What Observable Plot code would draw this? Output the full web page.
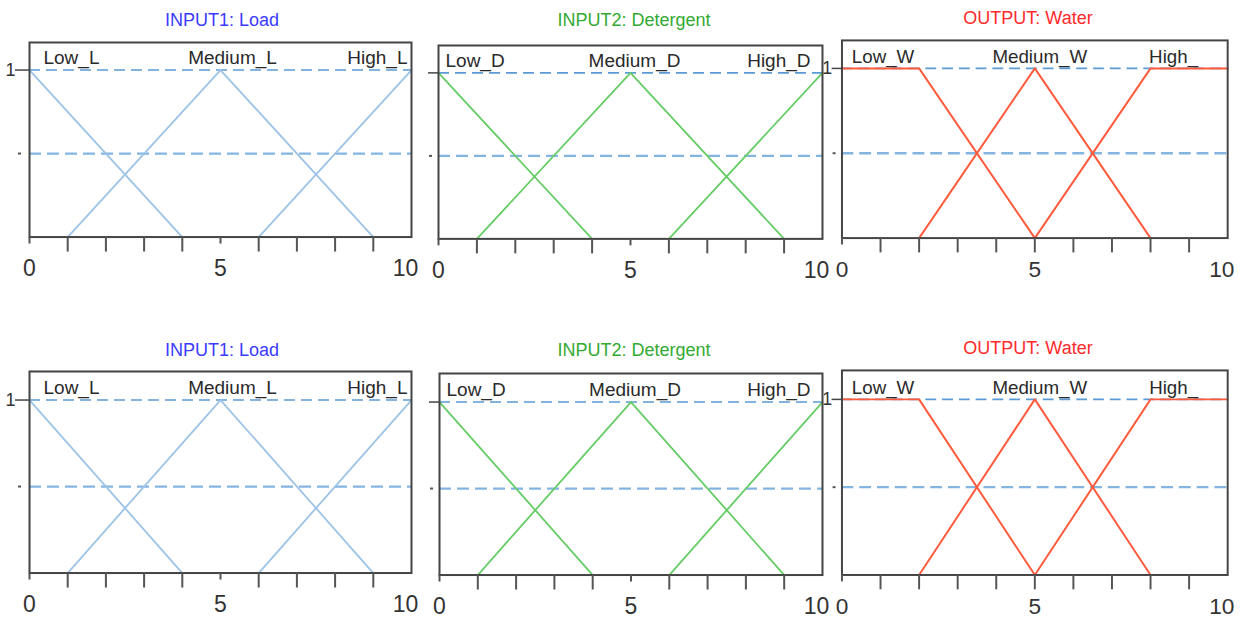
<!DOCTYPE html>
<html>
<head>
<meta charset="utf-8">
<script src="https://cdn.jsdelivr.net/npm/d3@7"></script>
<script src="https://cdn.jsdelivr.net/npm/@observablehq/plot@0.6"></script>
<style>
  html, body { margin: 0; padding: 0; background: #fff; }
  #root { position: relative; width: 1241px; height: 634px; overflow: hidden; font-family: "Liberation Sans", Arial, sans-serif; }
  .panel { position: absolute; }
  .title { position: absolute; transform: translate(-50%, -50%); font-size: 18px; white-space: nowrap; font-family: "Liberation Sans", Arial, sans-serif; }
</style>
</head>
<body>
<div id="root"></div>
<script>
// ---- data ----
const titles = ["INPUT1: Load", "INPUT2: Detergent", "OUTPUT: Water"];
const loadTerms = ["Low_L", "Medium_L", "High_L"];
const detergentTerms = ["Low_D", "Medium_D", "High_D"];
const waterTerms = ["Low_W", "Medium_W", "High_"];
// input membership functions (Load and Detergent share the same shapes)
const inputX = [[0, 4], [1, 5, 9], [6, 10]];
const inputMu = [[1, 0], [0, 1, 0], [0, 1]];
// output membership functions (Water)
const waterX = [[0, 2, 5], [2, 5, 8], [5, 8, 10]];
const waterMu = [[1, 1, 0], [0, 1, 0], [0, 1, 1]];
const xTickLabels = [0, 5, 10];
const xMinorTicks = [1, 2, 3, 4, 5, 6, 7, 8, 9];
const yTickLabels = [1];
const guideLevels = [1, 0.5];

// ---- styling / layout ----
const colors = ["#9dc3e6", "#66cc66", "#ff5a3c"];
const titleColors = ["#3b3bff", "#33aa33", "#ff2a2a"];
const termSets = [loadTerms, detergentTerms, waterTerms];
const shapeX = [inputX, inputX, waterX];
const shapeMu = [inputMu, inputMu, waterMu];
const layouts = [
  {col: 0, x0: 29,  x10: 411,  y1: 70,  y0: 237, tx: 222,  ty: 20},
  {col: 1, x0: 438, x10: 822,  y1: 72,  y0: 238, tx: 634,  ty: 20},
  {col: 2, x0: 842, x10: 1233, y1: 68,  y0: 240, tx: 1028, ty: 18},
  {col: 0, x0: 29,  x10: 411,  y1: 400, y0: 573, tx: 222,  ty: 350},
  {col: 1, x0: 439, x10: 822,  y1: 402, y0: 575, tx: 634,  ty: 350},
  {col: 2, x0: 842, x10: 1233, y1: 399, y0: 577, tx: 1028, ty: 348}
];
const labelDx = [[14, 12, -4], [7, 4, -12], [10, 5, -30]];
const labelAt = [0, 5, 10];
const labelAnchor = ["start", "middle", "end"];
const yTop = 1.165;

const root = document.getElementById("root");

for (const L of layouts) {
  const c = L.col;
  const terms = termSets[c];
  const pts = terms.flatMap((t, i) => shapeX[c][i].map((x, j) => ({term: t, x, mu: shapeMu[c][i][j]})));
  const frameTop = L.y1 - (yTop - 1) * (L.y0 - L.y1);
  const mL = 40, mR = 14, mT = 6, mB = 48;
  const width = mL + (L.x10 - L.x0) + mR;
  const height = mT + (L.y0 - frameTop) + mB;
  const longTicks = c === 2 ? xMinorTicks : xMinorTicks.filter(d => d !== 5);
  const shortTicks = c === 2 ? [0] : [0, 5];

  const marks = [
    Plot.ruleY(guideLevels.slice(0, 1), {stroke: "#5b9bd5", strokeWidth: 1.6, strokeDasharray: "11,6"}),
    Plot.ruleY(guideLevels.slice(1), {stroke: "#6fa8dc", strokeWidth: 2.3, strokeDasharray: "12,6", strokeOpacity: 0.85}),
    Plot.line(pts, {x: "x", y: "mu", z: "term", stroke: colors[c], strokeWidth: c === 2 ? 2 : 1.8}),
    Plot.frame({stroke: "#444", strokeWidth: 2}),
    Plot.axisX({ticks: longTicks, tickSize: 15, tickFormat: () => "", label: null, stroke: "#555", strokeWidth: 2}),
    Plot.axisX({ticks: shortTicks, tickSize: 7, tickFormat: () => "", label: null, stroke: "#555", strokeWidth: 2}),
    Plot.axisX({ticks: xTickLabels.slice(0, 2), tickSize: 0, tickPadding: 23, fontSize: 23, fill: "#333", label: null,
      tickFormat: d => String(d)}),
    Plot.axisX({ticks: xTickLabels.slice(2), tickSize: 0, tickPadding: 23, fontSize: 23, fill: "#333", label: null,
      tickFormat: d => String(d), dx: -6}),
    Plot.axisY({ticks: yTickLabels, tickSize: c === 0 ? 14 : 10, tickPadding: 0, fontSize: 18, fill: "#333", label: null,
      stroke: "#444", strokeWidth: 1.5, tickFormat: c === 1 ? () => "" : d => String(d)}),
    Plot.axisY({ticks: [0.5], tickSize: 3, tickFormat: () => "", label: null, stroke: "#555", strokeWidth: 2, dx: c === 0 ? -8 : -6}),
    ...terms.map((t, i) => Plot.text([t], {x: () => labelAt[i], y: () => 1, text: d => d,
      textAnchor: labelAnchor[i], dx: labelDx[c][i], dy: -12, lineAnchor: "middle", fontSize: 19, fill: "#2a2a2a"}))
  ];

  const chart = Plot.plot({
    width, height,
    marginLeft: mL, marginRight: mR, marginTop: mT, marginBottom: mB,
    x: {domain: [0, 10], axis: null},
    y: {domain: [0, yTop], axis: null},
    style: {background: "transparent", overflow: "visible", fontFamily: "'Liberation Sans', Arial, sans-serif"},
    marks
  });
  const wrap = document.createElement("div");
  wrap.className = "panel";
  wrap.style.left = (L.x0 - mL) + "px";
  wrap.style.top = (frameTop - mT) + "px";
  wrap.appendChild(chart);
  root.appendChild(wrap);

  const title = document.createElement("div");
  title.className = "title";
  title.textContent = titles[c];
  title.style.left = L.tx + "px";
  title.style.top = L.ty + "px";
  title.style.color = titleColors[c];
  root.appendChild(title);
}
</script>
</body>
</html>
